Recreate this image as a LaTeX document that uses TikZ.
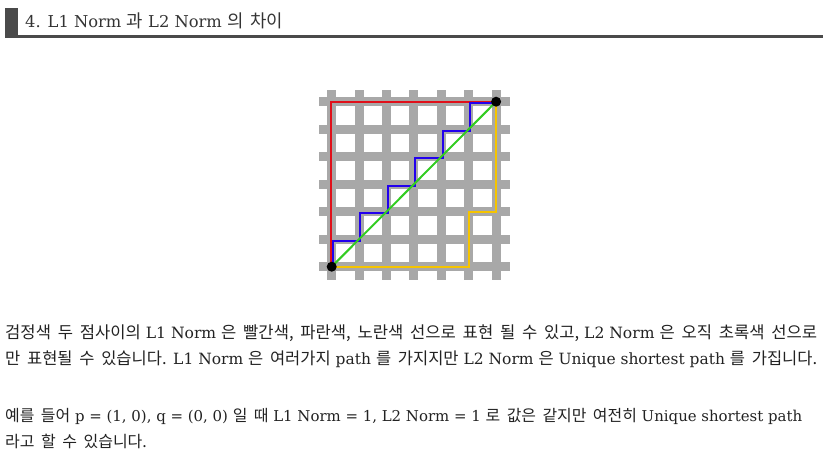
\documentclass[tikz,border=0pt]{standalone}
\usepackage{graphicx}
\usepackage{fontspec}
\setmainfont{DejaVu Serif}
\newfontfamily\kr{Noto Sans CJK KR}
\newcommand{\K}[1]{{\kr\fontsize{16pt}{20pt}\selectfont\fontdimen2\font=6.5pt\relax #1}}
\newcommand{\KT}[1]{{\kr\fontsize{18pt}{22pt}\selectfont\fontdimen2\font=7pt\relax #1}}
\newcommand{\bodyfnt}{\fontsize{15pt}{18pt}\selectfont}
\newcommand{\titlefnt}{\fontsize{16.5pt}{20pt}\selectfont}
\definecolor{gridgray}{HTML}{A8A8A8}
\definecolor{hdark}{HTML}{4A4A4A}
\definecolor{tcol}{HTML}{222222}
\definecolor{pred}{HTML}{E0101A}
\definecolor{pblue}{HTML}{2200EE}
\definecolor{pyel}{HTML}{F5C400}
\definecolor{pgreen}{HTML}{33CC22}
\tikzset{
  gridbar/.style={draw=gridgray,line width=9pt},
  pathline/.style={line width=2pt,line join=miter},
  dotnode/.style={circle,fill=black,inner sep=0pt,minimum size=10pt},
  bodytext/.style={anchor=base west,inner sep=0pt,text=tcol,font=\bodyfnt},
}
\begin{document}
\begin{tikzpicture}[x=1pt,y=-1pt]
\useasboundingbox (0,0) rectangle (829,458);
% header
\fill[hdark] (5,8) rectangle (18,37);
\fill[hdark] (5,34.5) rectangle (822.7,37.5);
\node[anchor=base west,inner sep=0pt,text=hdark!70!black,font=\titlefnt] (title) at (25,27.5) {\resizebox{258pt}{!}{4. L1 Norm \KT{과} L2 Norm \KT{의 차이}}};
% grid
\foreach \i in {0,...,6} {
  \draw[gridbar] ({331.7+27.4*\i},90) -- ({331.7+27.4*\i},280);
  \draw[gridbar] (319,{266.7-27.5*\i}) -- (509.5,{266.7-27.5*\i});
}
\coordinate (p) at (331.7,266.7);
\coordinate (q) at (496.1,101.7);
% red
\draw[pathline,pred] ([xshift=-0.7pt]p) -- ([xshift=-0.7pt]p |- q) -- (q);
% yellow
\draw[pathline,pyel] (p) -- ({331.7+27.4*5},266.7) -- ({331.7+27.4*5},{266.7-27.5*2}) -- (496.1,{266.7-27.5*2}) -- (q);
% blue staircase
\draw[pathline,pblue] (333,266.7)
  \foreach \k in {1,...,6} { -- ({333+27.4*(\k-1)},{268.2-27.5*\k}) -- ({333+27.4*\k},{268.2-27.5*\k}) };
% green
\draw[pathline,pgreen] (p) -- (q);
\node[dotnode] (pdot) at (p) {};
\node[dotnode] (qdot) at (q) {};
% text
\node[bodytext] (l1) at (5,338.5) {\resizebox{812pt}{!}{\K{검정색 두 점사이의} L1 Norm \K{은 빨간색, 파란색, 노란색 선으로 표현 될 수 있고,} L2 Norm \K{은 오직 초록색 선으로}}};
\node[bodytext] (l2) at (5,364) {\resizebox{812pt}{!}{\K{만 표현될 수 있습니다.} L1 Norm \K{은 여러가지} path \K{를 가지지만} L2 Norm \K{은} Unique shortest path \K{를 가집니다.}}};
\node[bodytext] (l3) at (5,421.5) {\resizebox{797pt}{!}{\K{예를 들어} p = (1, 0), q = (0, 0) \K{일 때} L1 Norm = 1, L2 Norm = 1 \K{로 값은 같지만 여전히} Unique shortest path}};
\node[bodytext] (l4) at (5,447) {\K{라고 할 수 있습니다.}};
\end{tikzpicture}
\end{document}
